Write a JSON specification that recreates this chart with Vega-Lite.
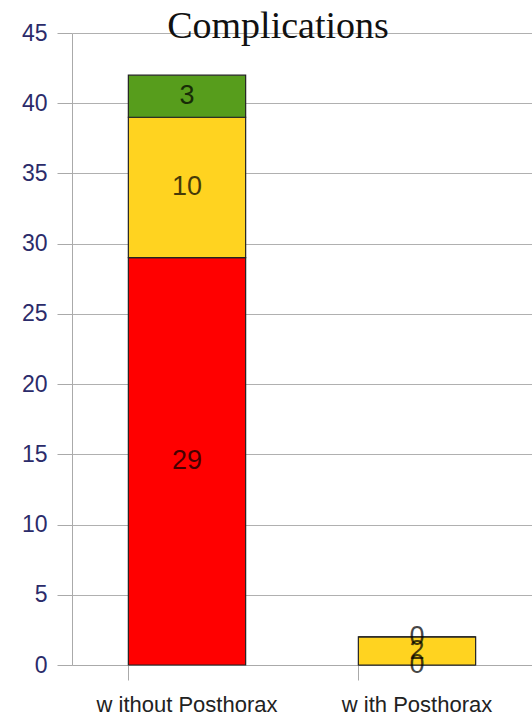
{
  "$schema": "https://vega.github.io/schema/vega-lite/v6.json",
  "autosize": "none",
  "width": 460,
  "height": 632,
  "padding": {"left": 72, "top": 33, "right": 0, "bottom": 55},
  "background": "white",
  "title": {
    "text": "Complications",
    "font": "Liberation Serif",
    "fontSize": 38,
    "fontWeight": "normal",
    "color": "#111111",
    "anchor": "middle",
    "frame": "group",
    "baseline": "alphabetic",
    "offset": -54,
    "dx": -24
  },
  "data": {
    "values": [
      {"group": "w ithout Posthorax", "type": "A", "ord": 1, "value": 29},
      {"group": "w ithout Posthorax", "type": "B", "ord": 2, "value": 10},
      {"group": "w ithout Posthorax", "type": "C", "ord": 3, "value": 3},
      {"group": "w ith Posthorax", "type": "A", "ord": 1, "value": 0},
      {"group": "w ith Posthorax", "type": "B", "ord": 2, "value": 2},
      {"group": "w ith Posthorax", "type": "C", "ord": 3, "value": 0}
    ]
  },
  "encoding": {
    "x": {
      "field": "group",
      "type": "nominal",
      "sort": ["w ithout Posthorax", "w ith Posthorax"],
      "scale": {"paddingInner": 0.49, "paddingOuter": 0.245},
      "axis": {
        "title": null,
        "labelAngle": 0,
        "labelFont": "Liberation Sans",
        "labelFontSize": 22,
        "labelColor": "#222222",
        "labelPadding": 14,
        "labelLimit": 400,
        "bandPosition": 0,
        "ticks": true,
        "tickSize": 15,
        "tickColor": "#aaaaaa",
        "domainColor": "#aaaaaa",
        "grid": false
      }
    },
    "y": {
      "field": "value",
      "type": "quantitative",
      "stack": "zero",
      "scale": {"domain": [0, 45], "nice": false},
      "axis": {
        "title": null,
        "values": [0, 5, 10, 15, 20, 25, 30, 35, 40, 45],
        "labelFont": "Liberation Sans",
        "labelFontSize": 23,
        "labelColor": "#2b2b6a",
        "labelPadding": 10,
        "tickSize": 15,
        "tickColor": "#aaaaaa",
        "domainColor": "#aaaaaa",
        "gridColor": "#b0b0b0",
        "grid": true
      }
    },
    "order": {"field": "ord", "type": "quantitative"}
  },
  "layer": [
    {
      "mark": {"type": "bar", "stroke": "#222222", "strokeWidth": 1.2},
      "encoding": {
        "color": {
          "field": "type",
          "type": "nominal",
          "scale": {"domain": ["A", "B", "C"], "range": ["#ff0000", "#ffd320", "#579d1c"]},
          "legend": null
        }
      }
    },
    {
      "mark": {"type": "text", "font": "Liberation Sans", "fontSize": 27, "color": "#000000", "opacity": 0.72, "baseline": "middle"},
      "encoding": {
        "y": {"field": "value", "type": "quantitative", "stack": "zero", "bandPosition": 0.5},
        "text": {"field": "value", "type": "quantitative"}
      }
    }
  ],
  "config": {"view": {"stroke": null}}
}
